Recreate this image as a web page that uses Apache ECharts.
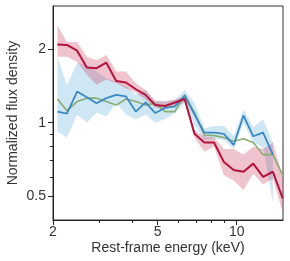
<!DOCTYPE html>
<html><head><meta charset="utf-8">
<script src="https://cdn.jsdelivr.net/npm/echarts@6/dist/echarts.min.js"></script>
<style>html,body{margin:0;padding:0;background:#fff}#c{width:290px;height:261px}</style>
</head><body><div id="c"></div>
<script>
// Rest-frame energy bins (keV)
const energy = [2.08, 2.26, 2.47, 2.69, 2.93, 3.19, 3.48, 3.79, 4.13, 4.50, 4.90, 5.34, 5.82, 6.34, 6.91, 7.53, 8.20, 8.94, 9.74, 10.61, 11.56, 12.60, 13.73, 14.96];

// Red series
const redMid = [2.09, 2.08, 1.97, 1.68, 1.67, 1.76, 1.48, 1.46, 1.37, 1.30, 1.18, 1.17, 1.21, 1.25, 0.90, 0.83, 0.83, 0.69, 0.64, 0.63, 0.68, 0.60, 0.63, 0.49];
const redHi  = [2.50, 2.14, 2.14, 1.86, 1.80, 1.89, 1.62, 1.62, 1.45, 1.36, 1.23, 1.22, 1.24, 1.29, 0.93, 0.88, 0.87, 0.78, 0.78, 0.74, 0.80, 0.78, 0.83, 0.60];
const redLo  = [1.86, 1.86, 1.77, 1.57, 1.43, 1.50, 1.45, 1.38, 1.33, 1.24, 1.15, 1.14, 1.17, 1.21, 0.87, 0.76, 0.80, 0.61, 0.58, 0.53, 0.62, 0.56, 0.59, 0.43];

// Blue series
const blueMid = [1.11, 1.09, 1.34, 1.27, 1.20, 1.26, 1.30, 1.28, 1.11, 1.21, 1.095, 1.15, 1.165, 1.29, 1.08, 0.91, 0.91, 0.90, 0.81, 1.07, 0.88, 0.91, 0.74];
const blueHi  = [1.85, 1.42, 1.76, 1.72, 1.62, 1.52, 1.47, 1.42, 1.30, 1.36, 1.22, 1.22, 1.24, 1.36, 1.20, 0.95, 0.97, 0.97, 0.88, 1.13, 0.96, 1.03, 0.83];
const blueLo  = [0.92, 0.87, 1.08, 1.00, 1.10, 1.06, 1.20, 1.08, 1.03, 1.08, 1.00, 1.035, 1.095, 1.20, 0.98, 0.85, 0.86, 0.85, 0.78, 1.00, 0.83, 0.79, 0.47];

// Green series
const greenMid = [1.25, 1.12, 1.22, 1.26, 1.26, 1.22, 1.18, 1.25, 1.22, 1.18, 1.20, 1.11, 1.11, 1.30, 1.10, 0.89, 0.885, 0.87, 0.84, 0.86, 0.83, 0.74, 0.74, 0.61];

// Axis ticks
const xLabelTicks = [2, 5, 10];
const xMinorTicks = [3, 4, 6, 7, 8, 9];
const yLabelTicks = [0.5, 1, 2];
const yMinorTicks = [0.6, 0.7, 0.8, 0.9];

function pairs(xs, ys){ return ys.map((v,i)=>[xs[i], v]); }

function band(lo, hi, color, z){
  return {
    type:'custom', z:z, silent:true, clip:true,
    data:[[energy[0], hi[0]]],
    renderItem:function(params, api){
      const pts=[];
      for(let i=0;i<hi.length;i++) pts.push(api.coord([energy[i], hi[i]]));
      for(let i=lo.length-1;i>=0;i--) pts.push(api.coord([energy[i], lo[i]]));
      return {type:'polygon', shape:{points:pts}, style:{fill:color, stroke:null}};
    }
  };
}

function line(ys, color, w, z){
  return {type:'line', data:pairs(energy, ys), symbol:'none', z:z, silent:true,
    lineStyle:{color:color, width:w}, itemStyle:{color:color}};
}

const font = 'Liberation Sans, Arial, Helvetica, sans-serif';
const txt = '#333';
const chart = echarts.init(document.getElementById('c'), null, {renderer:'canvas'});
chart.setOption({
  animation:false,
  backgroundColor:'#fff',
  grid:{left:53, top:6, width:230, height:214, containLabel:false, outerBoundsMode:'none',
        show:true, borderColor:'#333', borderWidth:1, backgroundColor:'transparent'},
  xAxis:[{
    type:'log', logBase:10, min:2, max:15,
    name:'Rest-frame energy (keV)', nameLocation:'middle', nameGap:21, nameMoveOverlap:false,
    nameTextStyle:{fontFamily:font, fontSize:14, color:txt},
    axisLine:{lineStyle:{color:'#222', width:1}},
    axisTick:{customValues:xLabelTicks, length:5, lineStyle:{color:'#222'}},
    axisLabel:{customValues:xLabelTicks, fontFamily:font, fontSize:14, color:txt, margin:5, formatter:v=>String(+v)},
    splitLine:{show:false}, minorTick:{show:false}
  },{
    type:'log', logBase:10, min:2, max:15, position:'bottom',
    axisLine:{show:false},
    axisTick:{customValues:xMinorTicks, length:3, lineStyle:{color:'#222'}},
    axisLabel:{show:false}, splitLine:{show:false}
  }],
  yAxis:[{
    type:'log', logBase:10, min:0.4, max:3,
    name:'Normalized flux density', nameLocation:'middle', nameGap:33, nameMoveOverlap:false,
    nameTextStyle:{fontFamily:font, fontSize:14, color:txt},
    axisLine:{lineStyle:{color:'#222', width:1}},
    axisTick:{customValues:yLabelTicks, length:5, lineStyle:{color:'#222'}},
    axisLabel:{customValues:yLabelTicks, fontFamily:font, fontSize:14, color:txt, margin:7, formatter:v=>String(+v)},
    splitLine:{show:false}, minorTick:{show:false}
  },{
    type:'log', logBase:10, min:0.4, max:3, position:'left',
    axisLine:{show:false},
    axisTick:{customValues:yMinorTicks, length:3, lineStyle:{color:'#222'}},
    axisLabel:{show:false}, splitLine:{show:false}
  }],
  series:[
    band(blueLo, blueHi, 'rgba(130,190,228,0.38)', 1),
    band(redLo, redHi, 'rgba(204,72,104,0.32)', 2),
    line(greenMid, '#8aab72', 1.6, 3),
    line(blueMid, '#3a8ac2', 1.8, 4),
    line(redMid, '#b3123b', 2, 5)
  ]
});
</script></body></html>
